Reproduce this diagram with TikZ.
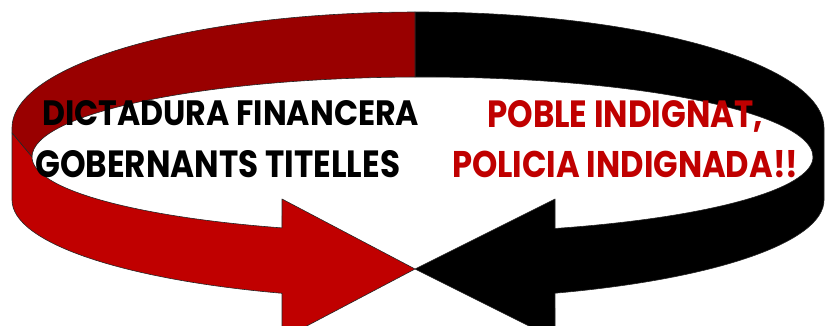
\documentclass[tikz,border=0pt]{standalone}
\usepackage{fontspec}
\setmainfont{Poppins}
\usepackage{graphicx}
\definecolor{backred}{HTML}{990000}
\definecolor{frontred}{HTML}{C00000}
\begin{document}
\begin{tikzpicture}[x=1pt,y=1pt,
  band/.style={draw=black!85,line width=0.6pt,line join=round},
  lbl/.style={anchor=base west,inner sep=0pt,font=\bfseries}]
\useasboundingbox (0,0) rectangle (826,325);
\clip (0,0) rectangle (826,325);
\coordinate (tip) at (415,56);
% black arrow (right half)
\path[band, fill=black]
  ([shift={(418,197)}]90.42:406 and 116)
  arc[start angle=90.42, end angle=0, x radius=406, y radius=116]
  -- (824,125)
  arc[start angle=0, end angle=-70.28, x radius=406, y radius=99]
  -- (555,-14) -- (tip) -- (555,126)
  -- ([shift={(422.5,168)}]-70.16:390.5 and 76)
  arc[start angle=-70.16, end angle=0, x radius=390.5, y radius=76]
  arc[start angle=0, end angle=91.10, x radius=390.5, y radius=80]
  -- cycle;
% red arrow, back part
\path[band, fill=backred]
  ([shift={(418,197)}]90.42:406 and 116)
  arc[start angle=90.42, end angle=180, x radius=406, y radius=116]
  -- (12,192) -- (32,168)
  arc[start angle=180, end angle=91.10, x radius=390.5, y radius=80]
  -- cycle;
% red arrow, front part
\path[band, fill=frontred]
  (12,192) -- (12,125)
  arc[start angle=180, end angle=250.43, x radius=406, y radius=99]
  -- (282,-14) -- (tip) -- (282,126)
  -- ([shift={(422.5,168)}]248.91:390.5 and 76)
  arc[start angle=248.91, end angle=180, x radius=390.5, y radius=76]
  -- cycle;
% texts
\node[lbl] (t1) at (42,200) {\resizebox{377pt}{25pt}{DICTADURA FINANCERA}};
\node[lbl] (t2) at (35,148) {\resizebox{365pt}{27pt}{GOBERNANTS TITELLES}};
\node[lbl, text=frontred] (t3) at (487,198) {\resizebox{276pt}{27pt}{POBLE INDIGNAT,}};
\node[lbl, text=frontred] (t4) at (452,148) {\resizebox{346pt}{27pt}{POLICIA INDIGNADA!!}};
\end{tikzpicture}
\end{document}
